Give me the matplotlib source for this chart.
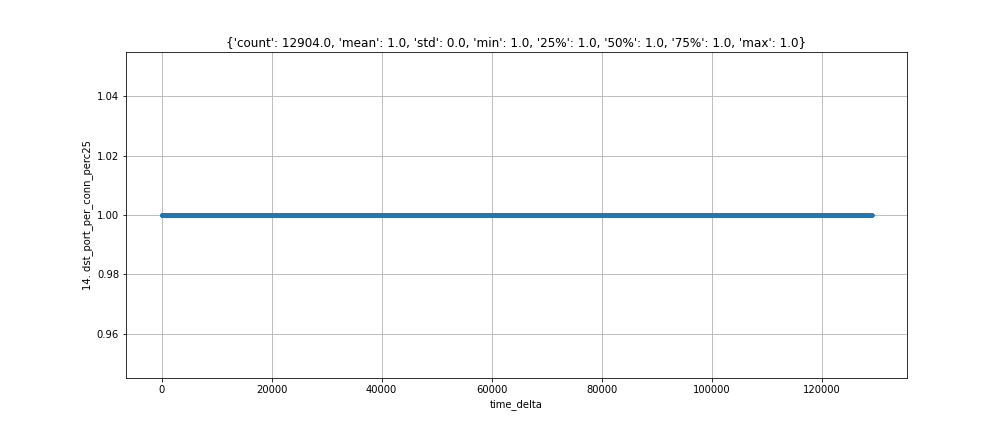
import numpy as np
import matplotlib
matplotlib.use('Agg')
import matplotlib.pyplot as plt

# summary statistics shown in the title
stats = {'count': 12904.0, 'mean': 1.0, 'std': 0.0, 'min': 1.0,
         '25%': 1.0, '50%': 1.0, '75%': 1.0, 'max': 1.0}

# samples: time_delta runs from 0 to ~129030, every value is 1.0
n_samples = 12904
time_start = 0
time_end = 129030
time_delta = np.linspace(time_start, time_end, n_samples)
values = np.full(n_samples, 1.0)

fig, ax = plt.subplots(figsize=(14, 6), dpi=72)
fig.subplots_adjust(left=0.125, right=0.9, top=0.88, bottom=0.125)
ax.plot(time_delta, values, marker='.', color='#1f77b4')
ax.set_xlabel('time_delta')
ax.set_ylabel('14. dst_port_per_conn_perc25')
ax.set_title(str(stats))
ax.grid(True)
fig.savefig('out.png', dpi=72)
